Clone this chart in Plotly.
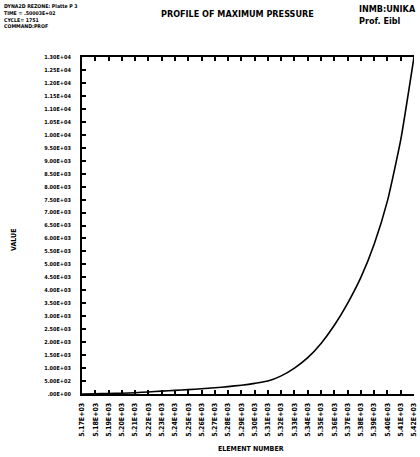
import plotly.graph_objects as go

# ---- data ----
element_number = [5170, 5180, 5190, 5200, 5210, 5220, 5230, 5240, 5250, 5260,
                  5270, 5280, 5290, 5300, 5310, 5320, 5330, 5340, 5350, 5360,
                  5370, 5380, 5390, 5400, 5410, 5420]
max_pressure = [0, 10, 20, 30, 50, 80, 110, 140, 170, 200,
                240, 285, 340, 410, 500, 700, 1000, 1400, 1950, 2650,
                3500, 4500, 5780, 7450, 9800, 13000]

y_tick_vals = [i * 500 for i in range(27)]
y_tick_text = [".00E+00", "5.00E+02", "1.00E+03", "1.50E+03", "2.00E+03", "2.50E+03",
               "3.00E+03", "3.50E+03", "4.00E+03", "4.50E+03", "5.00E+03", "5.50E+03",
               "6.00E+03", "6.50E+03", "7.00E+03", "7.50E+03", "8.00E+03", "8.50E+03",
               "9.00E+03", "9.50E+03", "1.00E+04", "1.05E+04", "1.10E+04", "1.15E+04",
               "1.20E+04", "1.25E+04", "1.30E+04"]
x_tick_vals = element_number
x_tick_text = ["%.2fE+03" % (v / 1000) for v in element_number]

header_lines = ["DYNA2D REZONE: Platte P 3", "TIME = .50003E+02", "CYCLE= 1751", "COMMAND:PROF"]

FONT = "DejaVu Sans Condensed"

L, R, T, B = 82, 6, 57, 63
PW = 420 - L - R
PH = 457 - T - B

fig = go.Figure()
fig.add_trace(go.Scatter(
    x=element_number, y=max_pressure, mode="lines",
    line=dict(color="black", width=1.6, shape="spline", smoothing=0.5),
    hoverinfo="skip", showlegend=False,
))

fig.update_layout(
    width=420, height=457,
    margin=dict(l=L, r=R, t=T, b=B),
    paper_bgcolor="white", plot_bgcolor="white",
    font=dict(family=FONT, color="black"),
    xaxis=dict(
        range=[5170, 5420], tickvals=x_tick_vals, ticktext=x_tick_text,
        tickangle=-90, tickfont=dict(size=7, family=FONT, weight="bold"),
        ticks="inside", ticklen=4, tickwidth=1.5, tickcolor="black",
        showline=True, linecolor="black", linewidth=2, mirror="ticks",
        showgrid=False, zeroline=False, ticklabelstandoff=4,
        automargin=False,
    ),
    yaxis=dict(
        range=[0, 13000], tickvals=y_tick_vals, ticktext=y_tick_text,
        tickfont=dict(size=5.5, family=FONT, weight="bold"),
        ticks="inside", ticklen=4, tickwidth=1.5, tickcolor="black",
        showline=True, linecolor="black", linewidth=2,
        showgrid=False, zeroline=False, ticklabelstandoff=8,
        automargin=False,
    ),
)

def px(x):
    return (x - L) / PW

def py(y):
    return (457 - B - y) / PH

fig.add_annotation(text="<b>VALUE</b>", x=px(14), y=py(240), xref="paper", yref="paper",
                   showarrow=False, textangle=-90, font=dict(size=7),
                   xanchor="center", yanchor="middle")
fig.add_annotation(text="<b>ELEMENT NUMBER</b>", x=px(251), y=py(449), xref="paper", yref="paper",
                   showarrow=False, font=dict(size=7), xanchor="center", yanchor="middle")
fig.add_annotation(text="<br>".join("<b>%s</b>" % s for s in header_lines),
                   x=px(2), y=py(1), xref="paper", yref="paper",
                   showarrow=False, align="left", xanchor="left", yanchor="top",
                   font=dict(size=5.2))
fig.add_annotation(text="<b>PROFILE OF MAXIMUM PRESSURE</b>",
                   x=px(237), y=py(14), xref="paper", yref="paper",
                   showarrow=False, font=dict(size=9), xanchor="center", yanchor="middle")
fig.add_annotation(text="<b>INMB:UNIKA</b><br><b>Prof. Eibl</b>",
                   x=px(357), y=py(2), xref="paper", yref="paper",
                   showarrow=False, align="left", xanchor="left", yanchor="top",
                   font=dict(size=9))

fig.write_html("out.html", config={"displayModeBar": False},
               post_script="document.body.style.margin='0';")
